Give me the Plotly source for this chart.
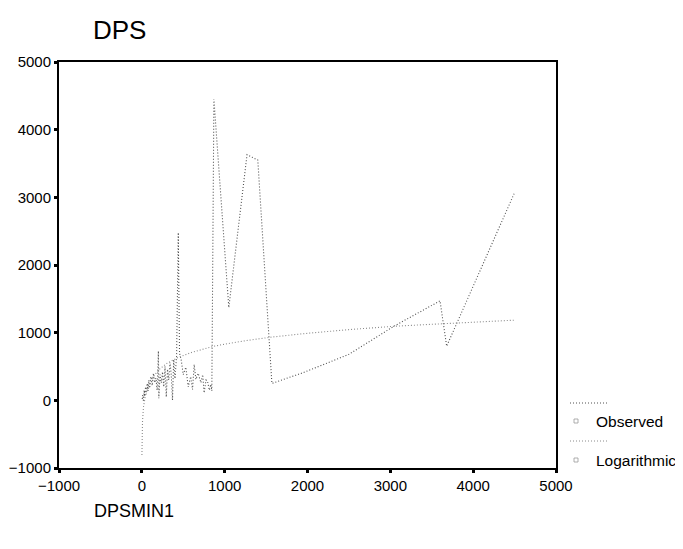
import plotly.graph_objects as go

# Observed series (DPSMIN1 vs DPS)
obs_x = [5, 12, 20, 28, 35, 45, 55, 65, 75, 85, 95, 110, 125, 140, 155, 170, 185,
         200, 205, 220, 235, 250, 265, 280, 295, 310, 325, 340, 355, 370, 385, 400,
         420, 440, 455, 475, 500, 531, 560, 590, 612, 632, 652, 680, 713, 735, 752,
         775, 793, 815, 833, 845, 870, 1050, 1270, 1400, 1570, 1950, 2500, 3050,
         3600, 3680, 4500]
obs_y = [20, 80, -20, 150, 60, 200, 90, 250, 140, 300, 180, 350, 220, 400, 260, 330, 150,
         730, 30, 380, 260, 420, 200, 500, 50, 460, 300, 560, 380, 0, 600, 320,
         660, 2480, 700, 600, 380, 490, 200, 350, 160, 530, 310, 400, 260, 380, 110,
         300, 285, 150, 236, 140, 4450, 1370, 3630, 3550, 250, 410, 680, 1100,
         1470, 800, 3070]

# Logarithmic fit curve
log_x = [1, 3, 8, 20, 50, 100, 200, 300, 440, 600, 870, 1050, 1270, 1570, 1950,
         2500, 3050, 3600, 3680, 4500]
log_y = [-808, -548, -315, -98, 120, 283, 448, 545, 635, 708, 800, 840, 885, 935, 985,
         1045, 1095, 1130, 1135, 1185]

x_ticks = [-1000, 0, 1000, 2000, 3000, 4000, 5000]
y_ticks = [-1000, 0, 1000, 2000, 3000, 4000, 5000]

font_family = "Liberation Sans, Arial, sans-serif"
OBS_COL = "#505050"
LOG_COL = "#8a8a8a"
DOTS = "1px,2px"

W, H = 675, 541   # page body adds an 8px offset
fig = go.Figure()
fig.add_trace(go.Scatter(x=obs_x, y=obs_y, mode="lines", name="Observed",
                         line=dict(color=OBS_COL, width=1.1, dash=DOTS),
                         showlegend=False))
fig.add_trace(go.Scatter(x=log_x, y=log_y, mode="lines", name="Logarithmic",
                         line=dict(color=LOG_COL, width=1.1, dash=DOTS),
                         showlegend=False))

axis_common = dict(showline=True, linecolor="black", linewidth=2, mirror=True,
                   ticks="outside", ticklen=3, tickwidth=3, tickcolor="black",
                   showgrid=False, zeroline=False, automargin=False,
                   tickfont=dict(family=font_family, size=15, color="black"))

fig.update_xaxes(range=[-1000, 5000], tickvals=x_ticks, **axis_common)
fig.update_yaxes(range=[-1000, 5000], tickvals=y_ticks, **axis_common)

fig.update_layout(
    width=W, height=H,
    margin=dict(l=51, r=W - 548, t=54, b=H - 460),
    paper_bgcolor="white", plot_bgcolor="white",
    title=dict(text="DPS", x=(93 - 8) / W, xanchor="left", xref="container",
               y=1 - (30 - 8) / H, yanchor="middle", yref="container",
               font=dict(family=font_family, size=26, color="black")),
    showlegend=False,
)

def px_x(p):
    return (p - 59) / 497

def px_y(p):
    return (468 - p) / 406

# x-axis title placed at lower left as in the reference
fig.add_annotation(text="DPSMIN1", xref="paper", yref="paper",
                   x=px_x(92), y=px_y(511), xanchor="left", yanchor="middle",
                   showarrow=False, font=dict(family=font_family, size=18, color="black"))

# custom legend (line sample above, small square + label below)
legend_items = [("Observed", OBS_COL, 403, 421), ("Logarithmic", LOG_COL, 441, 460)]
for name, col, ly, ty in legend_items:
    fig.add_shape(type="line", xref="paper", yref="paper",
                  x0=px_x(570), x1=px_x(609), y0=px_y(ly), y1=px_y(ly),
                  line=dict(color=col, width=1, dash=DOTS))
    fig.add_shape(type="rect", xref="paper", yref="paper",
                  x0=px_x(574), x1=px_x(578), y0=px_y(ty + 2), y1=px_y(ty - 2),
                  line=dict(color="#999", width=0.8), fillcolor="white")
    fig.add_annotation(text=name, xref="paper", yref="paper",
                       x=px_x(594), y=px_y(ty), xanchor="left", yanchor="middle",
                       showarrow=False,
                       font=dict(family=font_family, size=15.5, color="black"))

fig.write_html("out.html")
